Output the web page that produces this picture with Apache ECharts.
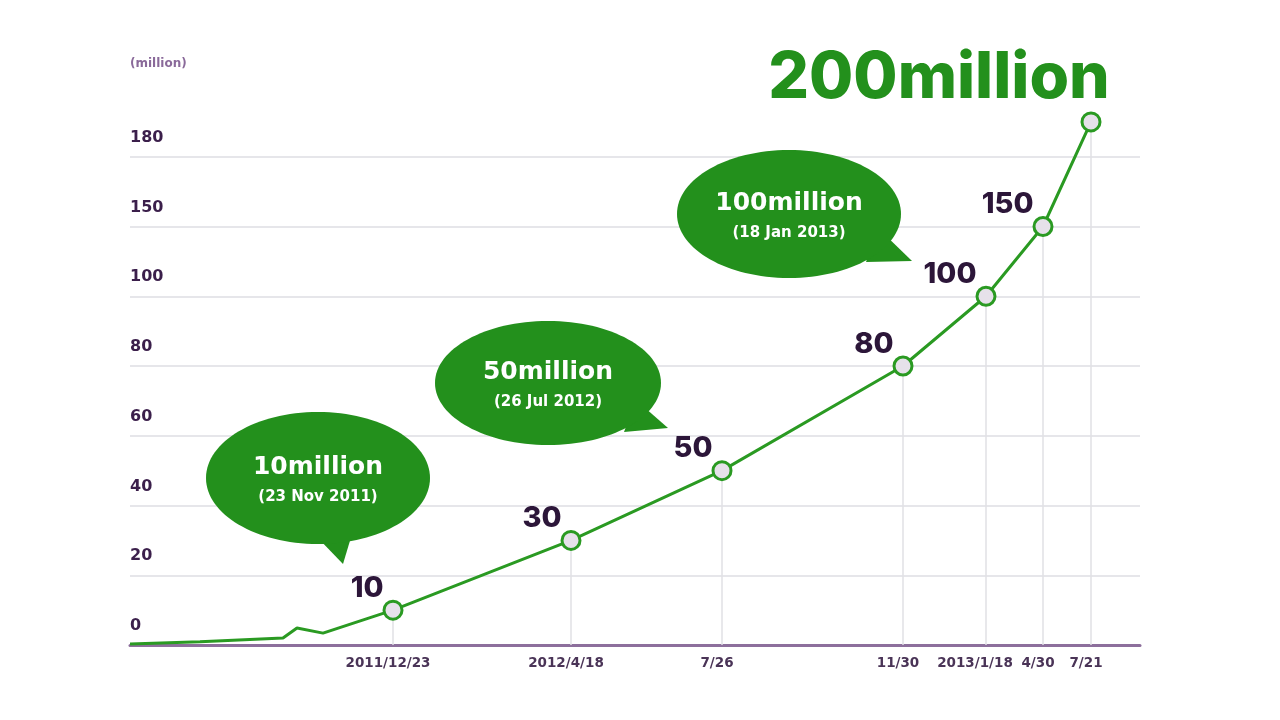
<!DOCTYPE html>
<html>
<head>
<meta charset="utf-8">
<script src="https://cdn.jsdelivr.net/npm/echarts@6/dist/echarts.min.js"></script>
<style>html,body{margin:0;padding:0;background:#fff}#c{width:1280px;height:720px}</style>
</head>
<body>
<div id="c"></div>
<script>
// ---- data ----
const dateLabels = ['2011/12/23', '2012/4/18', '7/26', '11/30', '2013/1/18', '4/30', '7/21'];
const milestoneValues = [10, 30, 50, 80, 100, 150, 200];
// position of each date on the chart's uneven date axis (axis units)
const milestoneSlots = [263, 441, 592, 773, 856, 913, 961];
// early growth before the first labelled date
const earlySlots = [0, 70, 153, 167, 193];
const earlyValues = [0.3, 0.9, 2, 4.9, 3.4];
// uneven value axis: tick values at evenly spaced gridlines
const yTickValues = [0, 20, 40, 60, 80, 100, 150, 180, 220];
const yTickLabels = ['0', '20', '40', '60', '80', '100', '150', '180', ''];
const bubbles = [
  { title: '10million', sub: '(23 Nov 2011)' },
  { title: '50million', sub: '(26 Jul 2012)' },
  { title: '100million', sub: '(18 Jan 2013)' }
];

// piecewise mapping of a value onto the uneven y axis
function toAxisY(v) {
  for (let i = 1; i < yTickValues.length; i++) {
    if (v <= yTickValues[i]) {
      const a = yTickValues[i - 1], b = yTickValues[i];
      return (i - 1) + (v - a) / (b - a);
    }
  }
  return yTickValues.length - 1;
}

const GREEN = '#23901c';
const LINE_GREEN = '#2a9a22';
const PURPLE_DARK = '#2c1639';
const WIDE = '"DejaVu Sans"';

const lineData = [];
earlySlots.forEach((x, i) => {
  lineData.push({ value: [x, toAxisY(earlyValues[i])], symbol: 'none', label: { show: false } });
});
milestoneSlots.forEach((x, i) => {
  const last = i === milestoneSlots.length - 1;
  lineData.push({
    value: [x, toAxisY(milestoneValues[i])],
    label: last ? {
      show: true, position: 'top', distance: 0, offset: [-152, -1],
      formatter: milestoneValues[i] + 'million',
      fontFamily: 'Inter', fontWeight: 800, fontSize: 64, color: GREEN
    } : {
      show: true, position: 'left', distance: -1, offset: [0, -22],
      formatter: String(milestoneValues[i]),
      fontFamily: 'Inter', fontWeight: 800, fontSize: 29, color: PURPLE_DARK
    }
  });
});
const dropData = milestoneSlots.map((x, i) => [x, toAxisY(milestoneValues[i])]);

function bubble(cx, cy, rx, ry, tail, b) {
  return {
    type: 'group',
    children: [
      { type: 'polygon', z: 100, shape: { points: tail }, style: { fill: GREEN } },
      { type: 'ellipse', z: 100, shape: { cx: cx, cy: cy, rx: rx, ry: ry }, style: { fill: GREEN } },
      { type: 'text', z: 101, x: cx, y: cy - 11, style: { text: b.title, fill: '#fff', font: 'bold 25px "DejaVu Sans"', align: 'center', verticalAlign: 'middle' } },
      { type: 'text', z: 101, x: cx, y: cy + 19, style: { text: b.sub, fill: '#fff', font: 'bold 15px "DejaVu Sans"', align: 'center', verticalAlign: 'middle' } }
    ]
  };
}

const chart = echarts.init(document.getElementById('c'));
chart.setOption({
  animation: false,
  backgroundColor: '#fff',
  grid: { left: 130, right: 140, top: 87, bottom: 75 },
  xAxis: {
    type: 'value', min: 0, max: 1010,
    axisLine: { show: true, lineStyle: { color: '#8d6f9c', width: 3 } },
    axisTick: { show: false },
    splitLine: { show: false },
    axisLabel: {
      customValues: milestoneSlots,
      formatter: function (v) {
        const i = milestoneSlots.indexOf(v);
        if (i < 0) return '';
        return (i === 4 ? '{b|' : '{a|') + dateLabels[i] + '}';
      },
      rich: {
        a: { padding: [0, 10, 0, 0], fontFamily: WIDE, fontWeight: 'bold', fontSize: 13.5, color: '#4a3457' },
        b: { padding: [0, 22, 0, 0], fontFamily: WIDE, fontWeight: 'bold', fontSize: 13.5, color: '#4a3457' }
      },
      margin: 11, fontFamily: WIDE, fontWeight: 'bold', fontSize: 13.5, color: '#4a3457'
    }
  },
  yAxis: {
    type: 'value', min: 0, max: 8, interval: 1,
    name: '(million)', nameLocation: 'end', nameGap: 17,
    nameTextStyle: { align: 'left', fontFamily: WIDE, fontWeight: 'bold', fontSize: 12, color: '#8a6a9a' },
    axisLine: { show: false },
    axisTick: { show: false },
    splitLine: { show: true, showMinLine: false, showMaxLine: false, lineStyle: { color: '#e6e6ea', width: 2 } },
    axisLabel: {
      inside: true, margin: 0, verticalAlign: 'bottom', padding: [0, 0, 11, 0],
      formatter: function (v) { return yTickLabels[v] || ''; },
      showMaxLabel: false,
      fontFamily: WIDE, fontWeight: 'bold', fontSize: 16, color: '#3b1f4b'
    }
  },
  series: [
    {
      type: 'bar', data: dropData, barWidth: 1.5, z: 1, silent: true,
      itemStyle: { color: '#e0e0e4' }
    },
    {
      type: 'line', data: lineData, z: 3,
      symbol: 'circle', symbolSize: 18, showAllSymbol: true,
      lineStyle: { color: LINE_GREEN, width: 3 },
      itemStyle: { color: '#e6e1ea', borderColor: LINE_GREEN, borderWidth: 3 }
    }
  ],
  graphic: [
    bubble(318, 478, 112, 66, [[316, 536], [343, 564], [352, 534]], bubbles[0]),
    bubble(548, 383, 113, 62, [[636, 400], [668, 428], [624, 432]], bubbles[1]),
    bubble(789, 214, 112, 64, [[878, 228], [912, 261], [866, 262]], bubbles[2])
  ]
});
</script>
</body>
</html>
